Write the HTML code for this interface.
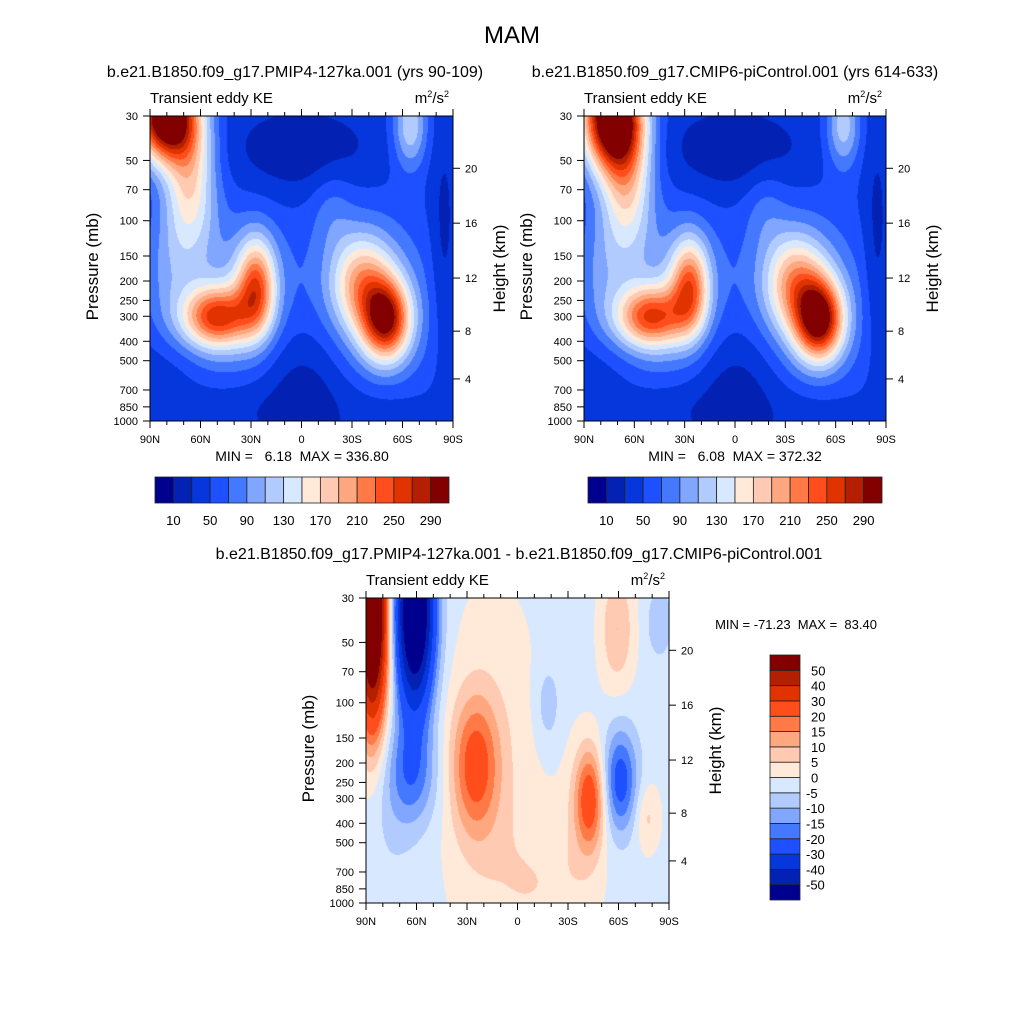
<!DOCTYPE html>
<html><head><meta charset="utf-8">
<style>
body{margin:0;background:#fff;}
#root{position:relative;width:1024px;height:1024px;overflow:hidden;background:#fff;font-family:"Liberation Sans",sans-serif;}
canvas{position:absolute;}
svg{position:absolute;left:0;top:0;}
</style></head>
<body>
<div id="root">
<canvas id="c1" width="303" height="305" style="left:150px;top:116px"></canvas>
<canvas id="c2" width="302" height="305" style="left:584px;top:116px"></canvas>
<canvas id="c3" width="303" height="305" style="left:366px;top:598px"></canvas>
<svg id="ov" width="1024" height="1024"></svg>
</div>
<script>
// ---- data ----
const absLevels=[10,30,50,70,90,110,130,150,170,190,210,230,250,270,290];
const absLabels=["10","50","90","130","170","210","250","290"];
const diffLevels=[-50,-40,-30,-20,-15,-10,-5,0,5,10,15,20,30,40,50];
const colors=["#00008f","#0322b4","#0537dc","#1e50ff","#4478ff","#80a6ff","#b1cbff","#d8e9ff","#ffe9d8","#ffcab1","#ffa880","#ff7a47","#ff4e1c","#e03300","#b31f00","#820000"];
const latTicks=["90N","60N","30N","0","30S","60S","90S"];
const presTicks=[30,50,70,100,150,200,250,300,400,500,700,850,1000];
const heightTicks=[4,8,12,16,20];
// blobs: x (0=90N,1=90S), y (0=30mb,1=1000mb), sx, sy, amplitude
const p1Base=42;
const p1X=[0.05,0.13,0.22,0.35,0.78,0.70,0.86,0.50,0.50,0.97,0.05,0.25,0.78,0.60,0.28,0.74,0.05];
const p1Y=[0.00,0.20,0.66,0.56,0.67,0.55,0.03,0.12,0.88,0.45,0.85,0.95,0.95,0.30,0.62,0.62,0.50];
const p1SX=[0.07,0.06,0.08,0.045,0.055,0.07,0.04,0.17,0.13,0.03,0.10,0.10,0.10,0.05,0.16,0.15,0.06];
const p1SY=[0.10,0.18,0.07,0.11,0.09,0.11,0.10,0.10,0.20,0.25,0.10,0.06,0.06,0.10,0.22,0.22,0.15];
const p1A=[300,120,175,160,205,115,85,-30,-38,-25,-15,-15,-12,25,55,55,30];
const p2Base=42;
const p2X=[0.09,0.14,0.22,0.35,0.78,0.70,0.86,0.50,0.50,0.97,0.05,0.25,0.78,0.60,0.28,0.74,0.05];
const p2Y=[0.00,0.20,0.66,0.56,0.67,0.55,0.03,0.12,0.88,0.45,0.85,0.95,0.95,0.30,0.62,0.62,0.50];
const p2SX=[0.07,0.06,0.08,0.045,0.055,0.07,0.04,0.17,0.13,0.03,0.10,0.10,0.10,0.05,0.16,0.15,0.06];
const p2SY=[0.12,0.18,0.07,0.11,0.09,0.11,0.10,0.10,0.20,0.25,0.10,0.06,0.06,0.10,0.22,0.22,0.15];
const p2A=[300,120,165,155,225,120,80,-30,-38,-25,-15,-15,-12,25,55,55,30];
const p3Base=-2;
const p3X=[0.02,0.16,0.15,0.36,0.74,0.84,0.83,0.97,0.60,0.93,0.42,0.60,0.08,0.70];
const p3Y=[0.05,0.05,0.58,0.55,0.66,0.60,0.10,0.08,0.35,0.72,0.60,0.95,0.70,0.75];
const p3SX=[0.035,0.045,0.06,0.055,0.035,0.04,0.04,0.03,0.03,0.03,0.12,0.12,0.06,0.05];
const p3SY=[0.25,0.22,0.12,0.16,0.12,0.12,0.14,0.08,0.10,0.08,0.45,0.15,0.20,0.20];
const p3A=[85,-72,-15,22,26,-22,12,-7,-7,8,6,5,-3,3];

function field(x,y,base,X,Y,SX,SY,A){let v=base;for(let i=0;i<X.length;i++){const dx=(x-X[i])/SX[i],dy=(y-Y[i])/SY[i];v+=A[i]*Math.exp(-0.5*(dx*dx+dy*dy));}return v;}
function hex(c){return [parseInt(c.slice(1,3),16),parseInt(c.slice(3,5),16),parseInt(c.slice(5,7),16)];}
const rgb=colors.map(hex);
function levelIdx(v,lv){let i=0;while(i<lv.length&&v>=lv[i])i++;return i;}
function draw(id,base,X,Y,SX,SY,A,lv){const c=document.getElementById(id),ctx=c.getContext('2d');const w=c.width,h=c.height;const img=ctx.createImageData(w,h);
for(let j=0;j<h;j++)for(let i=0;i<w;i++){const v=field(i/(w-1),j/(h-1),base,X,Y,SX,SY,A);const k=levelIdx(v,lv);const p=(j*w+i)*4;img.data[p]=rgb[k][0];img.data[p+1]=rgb[k][1];img.data[p+2]=rgb[k][2];img.data[p+3]=255;}
ctx.putImageData(img,0,0);}
draw('c1',p1Base,p1X,p1Y,p1SX,p1SY,p1A,absLevels);
draw('c2',p2Base,p2X,p2Y,p2SX,p2SY,p2A,absLevels);
draw('c3',p3Base,p3X,p3Y,p3SX,p3SY,p3A,diffLevels);

// ---- overlay ----
const NS='http://www.w3.org/2000/svg',ov=document.getElementById('ov');
function el(t,a,txt){const e=document.createElementNS(NS,t);for(const k in a)e.setAttribute(k,a[k]);if(txt!==undefined)e.textContent=txt;ov.appendChild(e);return e;}
function txt(x,y,s,size,anchor,name,extra){const e=el('text',Object.assign({x:x,y:y,'font-size':size,'text-anchor':anchor||'middle','font-family':'Liberation Sans, sans-serif',fill:'#000',style:'white-space:pre'},extra||{}),s);


return e;}
function yP(p,top,h){return top+h*Math.log(p/30)/Math.log(1000/30);}
function zToP(z){return z<=11?1013.25*Math.pow(1-z/44.33,5.256):226.3*Math.exp(-(z-11)/6.34);}
function panel(L,T,W,H,n){
 const fr=el('rect',{x:L,y:T,width:W,height:H,fill:'none',stroke:'#000','stroke-width':1});
 
 
 for(let d=0;d<=18;d++){const x=L+W*d/18,len=d%3===0?7:4;
  el('line',{x1:x,y1:T+H,x2:x,y2:T+H+len,stroke:'#000'});el('line',{x1:x,y1:T,x2:x,y2:T-len,stroke:'#000'});}
 latTicks.forEach((s,i)=>txt(L+W*i/6,T+H+22,s,11,'middle','x-tick-label'));
 presTicks.forEach(p=>{const y=yP(p,T,H);el('line',{x1:L-7,y1:y,x2:L,y2:y,stroke:'#000'});txt(L-12,y+4,String(p),11,'end','y-tick-label');});
 heightTicks.forEach(z=>{const y=yP(zToP(z),T,H);el('line',{x1:L+W,y1:y,x2:L+W+7,y2:y,stroke:'#000'});txt(L+W+12,y+4,String(z),11,'start','height-tick-label');});
 txt(L-50,T+H/2,'Pressure (mb)',17,'middle','y-axis-title',{transform:`rotate(-90 ${L-52} ${T+H/2})`});
 txt(L+W+52,T+H/2,'Height (km)',17,'middle','right-axis-title',{transform:`rotate(-90 ${L+W+52} ${T+H/2})`});
 txt(L,T-13,'Transient eddy KE',15,'start','plot-left-title');
 const u=txt(L+W-4,T-13,'',15,'end','units-label');
 u.innerHTML='m<tspan font-size="9" dy="-6">2</tspan><tspan dy="6">/s</tspan><tspan font-size="9" dy="-6">2</tspan>';
}
panel(150,116,303,305,1);panel(584,116,302,305,2);panel(366,598,303,305,3);
txt(512,43,'MAM',24,'middle','main-title');
txt(295,77,'b.e21.B1850.f09_g17.PMIP4-127ka.001 (yrs 90-109)',16,'middle','panel-1-title');
txt(735,77,'b.e21.B1850.f09_g17.CMIP6-piControl.001 (yrs 614-633)',16,'middle','panel-2-title');
txt(519,559,'b.e21.B1850.f09_g17.PMIP4-127ka.001 - b.e21.B1850.f09_g17.CMIP6-piControl.001',16,'middle','panel-3-title');
txt(302,461,'MIN =   6.18  MAX = 336.80',14,'middle','panel-1-minmax');
txt(735,461,'MIN =   6.08  MAX = 372.32',14,'middle','panel-2-minmax');
txt(796,629,'MIN = -71.23  MAX =  83.40',13,'middle','panel-3-minmax');
function hbar(L,T,W,H,n){const bw=W/16;for(let i=0;i<16;i++){const r=el('rect',{x:L+i*bw,y:T,width:bw,height:H,fill:colors[i],stroke:'#222','stroke-width':0.8});
 
 }
 absLabels.forEach((s,i)=>txt(L+bw*(1+2*i),T+H+22,s,13,'middle','colorbar-label'));}
hbar(155,477,294,26,1);hbar(588,477,294,26,2);
(function(){const L=770,T=655,W=30,H=245,bh=H/16;for(let i=0;i<16;i++){const r=el('rect',{x:L,y:T+H-(i+1)*bh,width:W,height:bh,fill:colors[i],stroke:'#222','stroke-width':0.8});
 
 }
 diffLevels.forEach((v,i)=>txt(v<0?806:811,T+H-(i+1)*bh+5,String(v),13,'start','diff-colorbar-label'));})();
</script>
</body></html>
